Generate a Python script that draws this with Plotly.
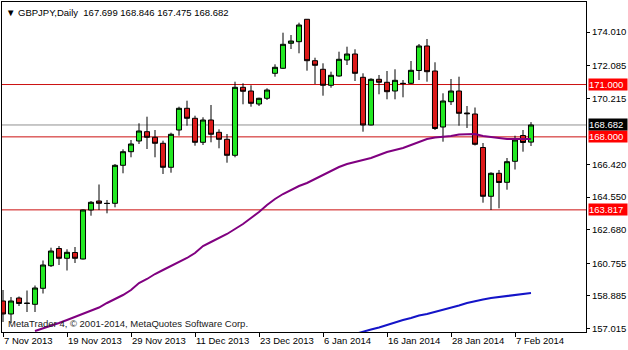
import plotly.graph_objects as go

# ---------------- data ----------------
bar_dates = [
    "2013-11-07", "2013-11-08", "2013-11-11", "2013-11-12", "2013-11-13", "2013-11-14", "2013-11-15",
    "2013-11-18", "2013-11-19", "2013-11-20", "2013-11-21", "2013-11-22", "2013-11-25", "2013-11-26",
    "2013-11-27", "2013-11-28", "2013-11-29",
    "2013-12-02", "2013-12-03", "2013-12-04", "2013-12-05", "2013-12-06", "2013-12-09", "2013-12-10",
    "2013-12-11", "2013-12-12", "2013-12-13", "2013-12-16", "2013-12-17", "2013-12-18", "2013-12-19",
    "2013-12-20", "2013-12-23", "2013-12-24", "2013-12-26", "2013-12-27", "2013-12-30", "2013-12-31",
    "2014-01-02", "2014-01-03", "2014-01-06", "2014-01-07", "2014-01-08", "2014-01-09", "2014-01-10",
    "2014-01-13", "2014-01-14", "2014-01-15", "2014-01-16", "2014-01-17", "2014-01-20", "2014-01-21",
    "2014-01-22", "2014-01-23", "2014-01-24", "2014-01-27", "2014-01-28", "2014-01-29", "2014-01-30",
    "2014-01-31", "2014-02-03", "2014-02-04", "2014-02-05", "2014-02-06", "2014-02-07", "2014-02-10",
    "2014-02-11",
]

opens = [
    158.595, 157.850, 158.767, 158.451, 158.405, 159.322, 160.617, 161.603, 161.042, 161.374,
    161.001, 163.810, 164.325, 164.193, 164.193, 166.371, 167.151, 167.764, 168.297, 167.976,
    167.632, 166.257, 168.394, 169.638, 169.065, 167.689, 168.967, 168.262, 167.861, 166.944,
    170.841, 170.629, 169.884, 170.211, 171.643, 171.930, 173.363, 173.454, 174.738, 172.365,
    171.873, 170.956, 171.489, 172.406, 172.749, 171.414, 168.681, 171.300, 171.128, 170.629,
    171.070, 171.070, 171.804, 173.208, 171.775, 168.566, 170.016, 170.629, 169.368, 169.311,
    167.391, 164.595, 165.913, 165.397, 166.600, 168.079, 167.699,
]
highs = [
    159.225, 158.824, 158.853, 159.196, 159.483, 160.916, 161.649, 161.746, 161.557, 161.689,
    163.838, 164.325, 165.271, 164.383, 166.446, 167.288, 167.821, 168.778, 169.156, 168.394,
    167.781, 168.239, 169.729, 170.073, 169.214, 169.122, 169.827, 168.434, 168.165, 171.162,
    171.070, 170.956, 170.245, 170.784, 172.159, 173.970, 173.838, 174.543, 174.755, 172.537,
    172.216, 171.735, 172.881, 173.168, 173.019, 171.643, 171.357, 171.546, 171.775, 171.873,
    171.259, 172.348, 173.322, 173.609, 172.274, 170.497, 171.317, 171.449, 169.769, 169.683,
    167.649, 165.970, 166.102, 166.789, 168.067, 168.394, 168.846,
]
lows = [
    157.391, 157.334, 158.308, 157.964, 157.964, 159.024, 160.543, 160.658, 160.342, 160.772,
    160.973, 163.483, 163.810, 163.620, 163.964, 165.913, 166.830, 167.592, 167.305, 166.830,
    165.873, 165.947, 168.067, 168.641, 167.494, 167.534, 167.689, 167.345, 166.520, 166.830,
    169.867, 169.729, 169.769, 170.113, 171.449, 171.890, 173.036, 172.790, 171.792, 171.030,
    170.360, 170.818, 171.449, 172.119, 171.202, 168.297, 168.663, 170.440, 170.153, 170.153,
    170.268, 171.030, 171.259, 171.162, 168.394, 167.724, 169.827, 168.641, 168.509, 167.506,
    164.228, 163.810, 163.907, 164.973, 166.130, 167.151, 167.475,
]
closes = [
    157.850, 158.595, 158.451, 158.469, 159.340, 160.658, 161.460, 161.042, 161.385, 161.042,
    163.810, 164.251, 164.193, 164.182, 166.371, 167.151, 167.592, 168.337, 167.976, 167.632,
    166.257, 168.148, 169.638, 169.065, 167.689, 168.967, 168.148, 167.861, 166.944, 170.841,
    170.612, 169.924, 170.211, 170.686, 171.987, 173.305, 173.494, 174.411, 172.365, 172.102,
    170.956, 171.529, 172.446, 172.749, 171.643, 168.681, 171.300, 171.128, 170.589, 171.242,
    171.058, 171.815, 173.208, 171.735, 168.480, 170.056, 170.629, 169.351, 169.328, 167.575,
    164.595, 165.913, 165.385, 166.577, 167.821, 167.678, 168.682,
]

ma_purple = [None] * 4 + [
    156.875, 157.019, 157.162, 157.334, 157.506, 157.678, 157.850, 158.022, 158.222, 158.480,
    158.709, 158.938, 159.225, 159.626, 159.855, 160.142, 160.371, 160.600, 160.830, 161.059,
    161.345, 161.746, 161.976, 162.205, 162.434, 162.721, 163.007, 163.351, 163.695, 164.096,
    164.440, 164.726, 164.956, 165.185, 165.357, 165.586, 165.815, 166.044, 166.274, 166.446,
    166.560, 166.675, 166.789, 166.961, 167.133, 167.248, 167.363, 167.534, 167.706, 167.878,
    167.964, 167.993, 168.050, 168.136, 168.165, 168.165, 168.050, 167.993, 167.907, 167.878,
    167.878, 167.878, 167.878,
]
ma_blue = [None] * 44 + [
    156.703, 156.847, 156.961, 157.076, 157.219, 157.391, 157.506, 157.620, 157.764, 157.850,
    157.964, 158.079, 158.193, 158.337, 158.480, 158.595, 158.681, 158.767, 158.824, 158.881,
    158.938, 158.996, 159.053,
]

level_lines = [171.000, 168.000, 163.817]
bid_price = 168.682
y_tick_vals = [174.010, 172.085, 170.215, 166.420, 164.550, 162.680, 160.755, 158.885, 157.015]
x_tick_labels = ["7 Nov 2013", "19 Nov 2013", "29 Nov 2013", "11 Dec 2013", "23 Dec 2013",
                 "6 Jan 2014", "16 Jan 2014", "28 Jan 2014", "7 Feb 2014"]
x_tick_dates = ["2013-11-07", "2013-11-19", "2013-11-29", "2013-12-11", "2013-12-23",
                "2014-01-06", "2014-01-16", "2014-01-28", "2014-02-07"]
title_text = "GBPJPY,Daily"
watermark = "MetaTrader 4, \u00a9 2001-2014, MetaQuotes Software Corp."

# ---------------- figure ----------------
FONT = "Tahoma, 'Liberation Sans', Arial, sans-serif"
xs = list(range(len(bar_dates)))
tick_pos = [bar_dates.index(d) for d in x_tick_dates]

fig = go.Figure()

fig.add_trace(go.Candlestick(
    x=xs, open=opens, high=highs, low=lows, close=closes,
    increasing=dict(fillcolor="#22E822", line=dict(color="black", width=1)),
    decreasing=dict(fillcolor="#DC1A1A", line=dict(color="black", width=1)),
    whiskerwidth=0, showlegend=False,
))

fig.add_trace(go.Scatter(x=xs, y=ma_blue, mode="lines",
                         line=dict(color="#1414C8", width=2), hoverinfo="skip", showlegend=False))
fig.add_trace(go.Scatter(x=xs, y=ma_purple, mode="lines",
                         line=dict(color="#800080", width=2), hoverinfo="skip", showlegend=False))

shapes = []
for lv in level_lines:
    shapes.append(dict(type="line", xref="paper", x0=0, x1=1, yref="y", y0=lv, y1=lv,
                       line=dict(color="#CC1010", width=1), layer="below"))
shapes.append(dict(type="line", xref="paper", x0=0, x1=1, yref="y", y0=bid_price, y1=bid_price,
                   line=dict(color="#909090", width=1), layer="below"))

annotations = []
for lv in level_lines:
    annotations.append(dict(xref="paper", x=1, xanchor="left", xshift=2, yref="y", y=lv,
                            yanchor="middle", text=f"{lv:.3f}", showarrow=False,
                            bgcolor="#FF0000", font=dict(family=FONT, size=9.5, color="white"),
                            width=38, height=11, align="left", borderpad=0))
annotations.append(dict(xref="paper", x=1, xanchor="left", xshift=2, yref="y", y=bid_price,
                        yanchor="middle", text=f"{bid_price:.3f}", showarrow=False,
                        bgcolor="#000000", font=dict(family=FONT, size=9.5, color="white"),
                        width=38, height=11, align="left", borderpad=0))
header = ("\u25BC " + title_text + "\u00a0\u00a0" +
          " ".join(f"{v:.3f}" for v in (opens[-1], highs[-1], lows[-1], closes[-1])))
annotations.append(dict(xref="paper", x=0, xanchor="left", xshift=2, yref="paper", y=1,
                        yanchor="top", yshift=-3, text=header, showarrow=False,
                        font=dict(family=FONT, size=9.5, color="black")))
annotations.append(dict(xref="paper", x=0, xanchor="left", xshift=4, yref="paper", y=0,
                        yanchor="bottom", yshift=1, text=watermark, showarrow=False,
                        font=dict(family=FONT, size=9.5, color="#202020")))

fig.update_layout(
    width=628, height=350,
    margin=dict(l=2, r=42, t=2, b=18),
    paper_bgcolor="white", plot_bgcolor="white",
    boxgap=0.1, boxgroupgap=0.3,
    shapes=shapes, annotations=annotations,
    showlegend=False,
    xaxis=dict(range=[-0.125, 72.875], rangeslider=dict(visible=False),
               showgrid=False, zeroline=False, showline=True, mirror=True,
               linecolor="black", linewidth=1,
               ticks="outside", ticklen=4, tickcolor="black", tickwidth=1,
               tickvals=tick_pos, ticktext=x_tick_labels,
               ticklabelposition="outside right",
               tickfont=dict(family=FONT, size=9.5, color="black"), fixedrange=True),
    yaxis=dict(range=[156.818, 175.729], side="right",
               showgrid=False, zeroline=False, showline=True, mirror=True,
               linecolor="black", linewidth=1,
               ticks="outside", ticklen=3, tickcolor="black", tickwidth=1,
               tickvals=y_tick_vals, ticktext=[f"{v:.3f}" for v in y_tick_vals],
               tickfont=dict(family=FONT, size=9.5, color="black"), fixedrange=True),
)

fig.write_html("out.html")
